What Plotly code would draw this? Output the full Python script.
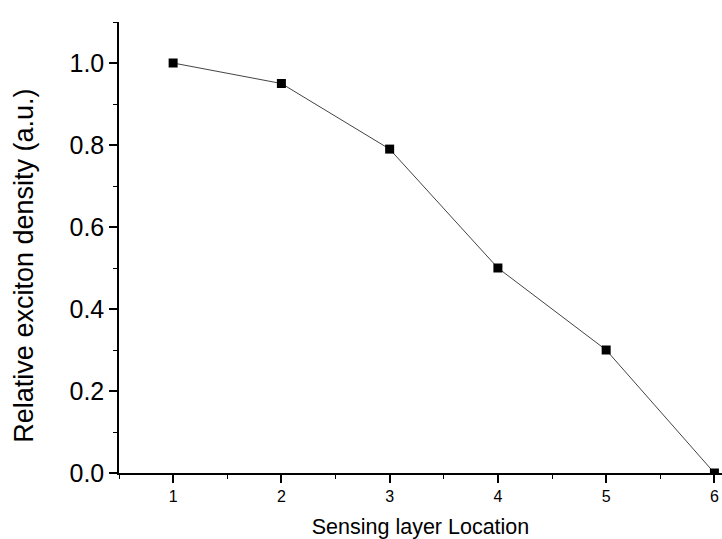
import plotly.graph_objects as go

locations = [1, 2, 3, 4, 5, 6]
density = [1.0, 0.95, 0.79, 0.5, 0.3, 0.0]

fig = go.Figure()
fig.add_trace(go.Scatter(
    x=locations, y=density, mode="lines+markers",
    line=dict(color="#444444", width=1),
    marker=dict(symbol="square", size=9, color="black"),
    cliponaxis=True, showlegend=False,
))

font = "Liberation Sans, Arial, sans-serif"
fig.update_layout(
    width=722, height=539,
    margin=dict(l=119, r=0, t=22, b=66, autoexpand=False),
    paper_bgcolor="white", plot_bgcolor="white",
    font=dict(family=font, color="black"),
    xaxis=dict(
        range=[0.5, 6.07], tickmode="linear", tick0=1, dtick=1,
        automargin=False,
        showline=True, linecolor="black", linewidth=1.5,
        ticks="outside", ticklen=8, tickwidth=1.5, tickcolor="black",
        minor=dict(ticks="outside", ticklen=4, tick0=0.5, dtick=0.5, tickcolor="black", tickwidth=1),
        showgrid=False, zeroline=False,
        tickfont=dict(size=16),
        title=dict(text="Sensing layer Location", font=dict(size=21.5), standoff=17),
    ),
    yaxis=dict(
        range=[0, 1.1], tickmode="linear", tick0=0, dtick=0.2,
        tickformat=".1f", automargin=False,
        showline=True, linecolor="black", linewidth=1.5,
        ticks="outside", ticklen=8, tickwidth=1.5, tickcolor="black",
        minor=dict(ticks="outside", ticklen=4, tick0=0, dtick=0.1, tickcolor="black", tickwidth=1),
        showgrid=False, zeroline=False,
        tickfont=dict(size=25),
    ),
    annotations=[dict(
        text="Relative exciton density (a.u.)", textangle=-90,
        xref="paper", yref="paper", x=-0.159, y=0.46,
        xanchor="center", yanchor="middle", showarrow=False,
        font=dict(size=27, family=font, color="black"),
    )],
)

fig.write_html(
    "out.html",
    config={"displayModeBar": False},
    post_script="document.body.style.margin='0';document.body.style.overflow='hidden';",
)
